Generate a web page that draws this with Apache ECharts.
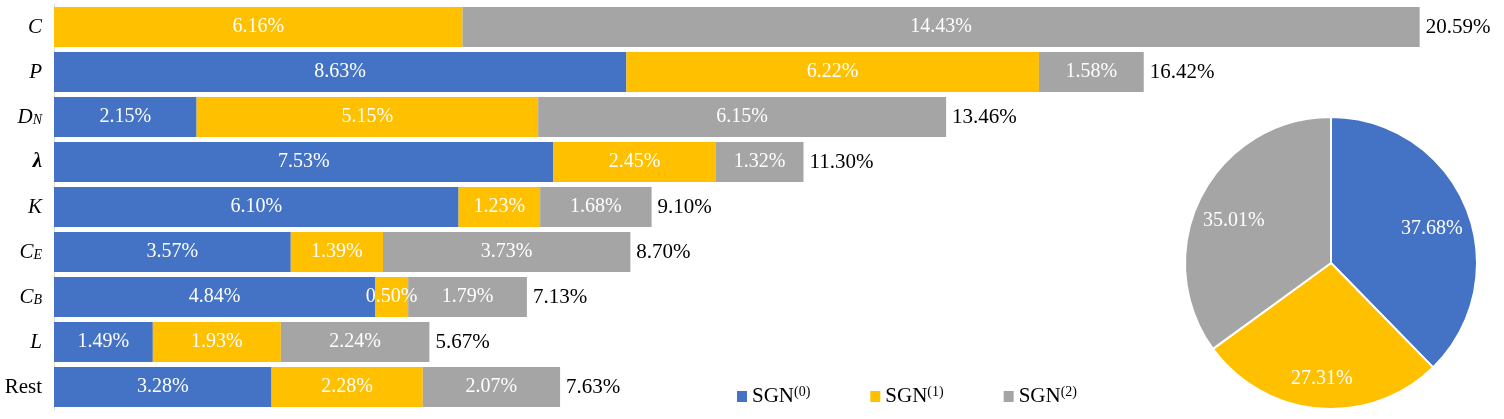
<!DOCTYPE html>
<html><head><meta charset="utf-8">
<script src="https://cdn.jsdelivr.net/npm/echarts@6/dist/echarts.min.js"></script>
<style>html,body{margin:0;padding:0;background:#fff}#c{width:1504px;height:419px}</style>
</head><body><div id="c"></div>
<script>
const categories = ['C', 'P', 'D_N', 'λ', 'K', 'C_E', 'C_B', 'L', 'Rest'];
const sgn0 = [0, 8.63, 2.15, 7.53, 6.10, 3.57, 4.84, 1.49, 3.28];
const sgn1 = [6.16, 6.22, 5.15, 2.45, 1.23, 1.39, 0.50, 1.93, 2.28];
const sgn2 = [14.43, 1.58, 6.15, 1.32, 1.68, 3.73, 1.79, 2.24, 2.07];
const totals = [20.59, 16.42, 13.46, 11.30, 9.10, 8.70, 7.13, 5.67, 7.63];
const seriesNames = ['SGN(0)', 'SGN(1)', 'SGN(2)'];
const pieValues = [37.68, 27.31, 35.01];
const colors = ['#4472C4', '#FFC000', '#A5A5A5'];

const FONT = '"Liberation Serif", "DejaVu Serif", serif';
const chart = echarts.init(document.getElementById('c'));

function catLabel(v) {
  if (v === 'Rest') return '{n|Rest}';
  if (v === 'λ') return '{b|λ}';
  if (v.indexOf('_') > 0) {
    const p = v.split('_');
    return '{i|' + p[0] + '}{s|' + p[1] + '}';
  }
  return '{i|' + v + '}';
}

const barLabel = {
  show: true, position: 'inside', color: '#fff', fontFamily: FONT, fontSize: 20,
  formatter: p => p.value > 0 ? p.value.toFixed(2) + '%' : ''
};

const barSeries = seriesNames.map((n, i) => ({
  name: n, type: 'bar', stack: 'all', barCategoryGap: '11%',
  data: [sgn0, sgn1, sgn2][i],
  itemStyle: { color: colors[i] },
  label: barLabel
}));

barSeries.push({
  name: 'total', type: 'bar', stack: 'all',
  data: totals.map(() => 0),
  itemStyle: { color: 'transparent' },
  label: {
    show: true, position: 'right', distance: 6, color: '#000', fontFamily: FONT, fontSize: 21,
    formatter: p => totals[p.dataIndex].toFixed(2) + '%'
  }
});

const pieData = seriesNames.map((n, i) => ({ name: n, value: pieValues[i], itemStyle: { color: colors[i] } }));

chart.setOption({
  animation: false,
  textStyle: { fontFamily: FONT },
  grid: { left: 54, right: 24, top: 4.5, bottom: 9.5, containLabel: false },
  xAxis: { type: 'value', min: 0, max: 21.5, show: false, splitLine: { show: false } },
  yAxis: {
    type: 'category', data: categories, inverse: true,
    axisLine: { lineStyle: { color: '#d9d9d9', width: 1 } },
    axisTick: { show: false },
    axisLabel: {
      margin: 12, formatter: catLabel,
      rich: {
        i: { fontFamily: FONT, fontStyle: 'italic', fontSize: 21, color: '#000' },
        b: { fontFamily: FONT, fontStyle: 'italic', fontWeight: 'bold', fontSize: 21, color: '#000' },
        s: { fontFamily: FONT, fontStyle: 'italic', fontSize: 14, color: '#000', verticalAlign: 'bottom', padding: [6, 0, 0, 0] },
        n: { fontFamily: FONT, fontSize: 21, color: '#000' }
      }
    }
  },
  legend: {
    data: seriesNames, left: 732, top: 380, itemWidth: 10, itemHeight: 11, itemGap: 60,
    icon: 'rect',
    formatter: n => '{a|SGN}{s|' + n.slice(3) + '}',
    textStyle: {
      rich: {
        a: { fontFamily: FONT, fontSize: 21, color: '#000' },
        s: { fontFamily: FONT, fontSize: 14, color: '#000', verticalAlign: 'top', padding: [0, 0, 9, 0] }
      }
    }
  },
  series: barSeries.concat([
    {
      name: 'pie', type: 'pie', center: [1331, 263], radius: [0, 146], startAngle: 90, clockwise: true,
      data: pieData, label: { show: false }, labelLine: { show: false },
      itemStyle: { borderColor: '#fff', borderWidth: 2 }, silent: true
    },
    {
      name: 'pieLabels', type: 'pie', center: [1331, 263], radius: [66, 146], startAngle: 90, clockwise: true,
      data: pieData.map(d => ({ name: d.name, value: d.value })),
      itemStyle: { color: 'rgba(0,0,0,0)' }, silent: true, z: 5,
      label: { show: true, position: 'inside', offset: [0, 7], color: '#fff', fontFamily: FONT, fontSize: 20, formatter: p => p.value.toFixed(2) + '%' },
      labelLine: { show: false }
    }
  ])
});
</script></body></html>
